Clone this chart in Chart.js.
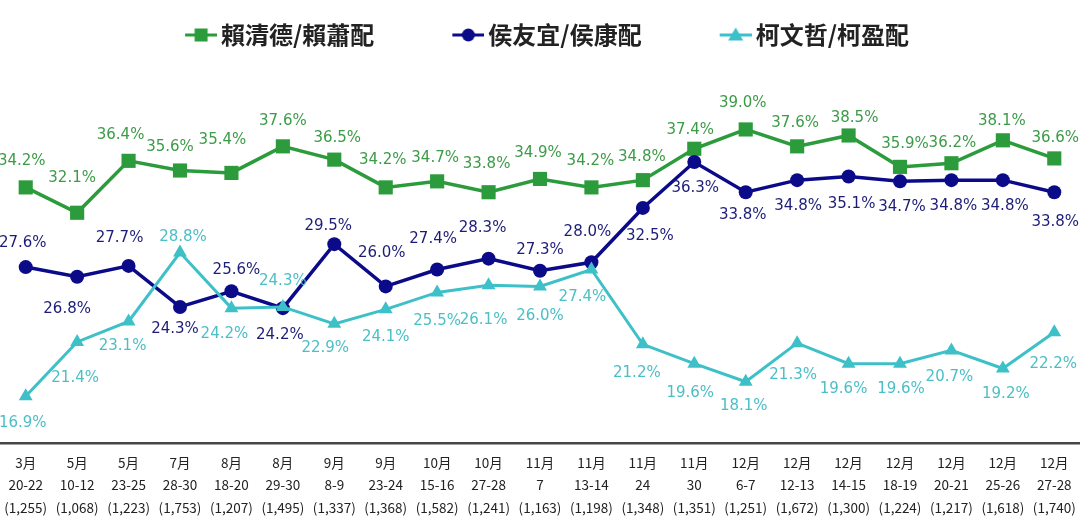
<!DOCTYPE html>
<html>
<head>
<meta charset="utf-8">
<script src="https://cdn.jsdelivr.net/npm/chart.js@4.4.1/dist/chart.umd.min.js"></script>
<style>
html,body{margin:0;padding:0;background:#ffffff;}
#wrap{width:1080px;height:529px;position:relative;}
</style>
</head>
<body>
<div id="wrap"><canvas id="c" width="1080" height="529"></canvas></div>
<script>
// ---------- data ----------
const categories = [
  ['3月','20-22','(1,255)'],
  ['5月','10-12','(1,068)'],
  ['5月','23-25','(1,223)'],
  ['7月','28-30','(1,753)'],
  ['8月','18-20','(1,207)'],
  ['8月','29-30','(1,495)'],
  ['9月','8-9','(1,337)'],
  ['9月','23-24','(1,368)'],
  ['10月','15-16','(1,582)'],
  ['10月','27-28','(1,241)'],
  ['11月','7','(1,163)'],
  ['11月','13-14','(1,198)'],
  ['11月','24','(1,348)'],
  ['11月','30','(1,351)'],
  ['12月','6-7','(1,251)'],
  ['12月','12-13','(1,672)'],
  ['12月','14-15','(1,300)'],
  ['12月','18-19','(1,224)'],
  ['12月','20-21','(1,217)'],
  ['12月','25-26','(1,618)'],
  ['12月','27-28','(1,740)']
];
const seriesNames = ['賴清德/賴蕭配', '侯友宜/侯康配', '柯文哲/柯盈配'];
const laiValues = [34.2, 32.1, 36.4, 35.6, 35.4, 37.6, 36.5, 34.2, 34.7, 33.8, 34.9, 34.2, 34.8, 37.4, 39.0, 37.6, 38.5, 35.9, 36.2, 38.1, 36.6];
const houValues = [27.6, 26.8, 27.7, 24.3, 25.6, 24.2, 29.5, 26.0, 27.4, 28.3, 27.3, 28.0, 32.5, 36.3, 33.8, 34.8, 35.1, 34.7, 34.8, 34.8, 33.8];
const koValues  = [16.9, 21.4, 23.1, 28.8, 24.2, 24.3, 22.9, 24.1, 25.5, 26.1, 26.0, 27.4, 21.2, 19.6, 18.1, 21.3, 19.6, 19.6, 20.7, 19.2, 22.2];
const yMin = 13;
const yMax = 45;

// ---------- styles ----------
const colors = { lai: '#2b9b3b', hou: '#0b0b8a', ko: '#3dc0c8' };
const labelColors = { lai: '#3c9b47', hou: '#1d1d78', ko: '#4cbfc6' };
// data label offsets (dx, dy) from each marker, in px
const laiLabelOffsets = [[-4,-26],[-5,-35],[-8,-26],[-10,-23],[-9,-33],[0,-25],[3,-22],[-3,-27],[-2,-23],[-2,-28],[-2,-26],[-1,-26],[-1,-23],[-4,-19],[-3,-26],[-2,-23],[6,-17],[5,-23],[1,-20],[-1,-19],[1,-20]];
const houLabelOffsets = [[-3,-24],[-10,32],[-9,-28],[-5,22],[5,-21],[-3,27],[-6,-18],[-4,-33],[-4,-30],[-6,-31],[0,-21],[-4,-30],[7,28],[1,26],[-3,23],[1,26],[3,28],[2,26],[2,26],[2,26],[1,30]];
const koLabelOffsets  = [[-3,27],[-2,36],[-6,25],[3,-15],[-7,26],[0,-26],[-9,24],[0,28],[0,29],[-5,35],[0,30],[-9,28],[-6,29],[-4,29],[-2,24],[-4,32],[-5,25],[1,25],[-2,27],[3,26],[-1,32]];
const LEGEND_BOX = 92;
const LEGEND_SHIFT = -27;

function legendIcon(color, style) {
  const W = LEGEND_BOX + 16, H = 18;
  const c = document.createElement('canvas');
  c.width = W; c.height = H;
  const g = c.getContext('2d');
  const x0 = W - 32, cx = W - 16, cy = H / 2;
  g.strokeStyle = color; g.lineWidth = 3;
  g.beginPath(); g.moveTo(x0, cy); g.lineTo(W, cy); g.stroke();
  g.fillStyle = color;
  if (style === 'rect') {
    g.fillRect(cx - 6.5, cy - 6.5, 13, 13);
  } else if (style === 'circle') {
    g.beginPath(); g.arc(cx, cy, 6.5, 0, Math.PI * 2); g.fill();
  } else {
    g.beginPath(); g.moveTo(cx, cy - 7.5); g.lineTo(cx + 7.5, cy + 5.5); g.lineTo(cx - 7.5, cy + 5.5); g.closePath(); g.fill();
  }
  return c;
}

const offsetsByIndex = [laiLabelOffsets, houLabelOffsets, koLabelOffsets];
const labelColorByIndex = [labelColors.lai, labelColors.hou, labelColors.ko];

const pointLabels = {
  id: 'pointLabels',
  afterDatasetsDraw(chart) {
    const ctx = chart.ctx;
    chart.data.datasets.forEach((ds, di) => {
      const meta = chart.getDatasetMeta(di);
      ctx.save();
      ctx.font = '15px "DejaVu Sans"';
      ctx.fillStyle = labelColorByIndex[di];
      ctx.textAlign = 'center';
      ctx.textBaseline = 'middle';
      meta.data.forEach((pt, i) => {
        const off = offsetsByIndex[di][i];
        ctx.fillText(ds.data[i].toFixed(1) + '%', pt.x + off[0], pt.y + off[1]);
      });
      ctx.restore();
    });
  }
};

const legendShift = {
  id: 'legendShift',
  afterLayout(chart) {
    if (chart.legend) {
      chart.legend.left += LEGEND_SHIFT;
      chart.legend.right += LEGEND_SHIFT;
    }
  }
};

const icons = [legendIcon(colors.lai, 'rect'), legendIcon(colors.hou, 'circle'), legendIcon(colors.ko, 'triangle')];

new Chart(document.getElementById('c'), {
  type: 'line',
  data: {
    labels: categories,
    datasets: [
      { label: seriesNames[0], data: laiValues, borderColor: colors.lai, backgroundColor: colors.lai,
        borderWidth: 3.5, pointStyle: 'rect', pointRadius: 10, pointBorderWidth: 0, tension: 0, order: 2, clip: false },
      { label: seriesNames[1], data: houValues, borderColor: colors.hou, backgroundColor: colors.hou,
        borderWidth: 3.5, pointStyle: 'circle', pointRadius: 7, pointBorderWidth: 0, tension: 0, order: 1, clip: false },
      { label: seriesNames[2], data: koValues, borderColor: colors.ko, backgroundColor: colors.ko,
        borderWidth: 3, pointStyle: 'triangle', pointRadius: 8, pointBorderWidth: 0, tension: 0, order: 0, clip: false }
    ]
  },
  options: {
    responsive: false,
    animation: false,
    devicePixelRatio: 1,
    layout: { autoPadding: false, padding: { top: 13, bottom: 2, left: 0, right: 0 } },
    plugins: {
      tooltip: { enabled: false },
      legend: {
        position: 'top',
        align: 'center',
        labels: {
          usePointStyle: true,
          pointStyleWidth: LEGEND_BOX,
          padding: 10,
          color: '#222222',
          font: { family: '"Noto Sans CJK TC", "Noto Sans", sans-serif', size: 24, weight: 'bold' },
          generateLabels(chart) {
            return seriesNames.map((name, i) => ({
              text: name,
              fillStyle: 'transparent',
              strokeStyle: 'transparent',
              lineWidth: 0,
              pointStyle: icons[i],
              fontColor: '#222222',
              hidden: false,
              datasetIndex: i
            }));
          }
        }
      }
    },
    scales: {
      x: {
        offset: true,
        grid: { display: false, drawTicks: false },
        border: { display: true, color: '#464646', width: 2.5 },
        afterFit(scale) { scale.paddingLeft = 0; scale.paddingRight = 0; },
        ticks: {
          color: '#222222',
          padding: 8,
          maxRotation: 0,
          autoSkip: false,
          font: { family: '"Noto Sans CJK TC", "Noto Sans", sans-serif', size: 13.5, lineHeight: 1.67 }
        }
      },
      y: {
        display: false,
        min: yMin,
        max: yMax
      }
    }
  },
  plugins: [pointLabels, legendShift]
});
</script>
</body>
</html>
